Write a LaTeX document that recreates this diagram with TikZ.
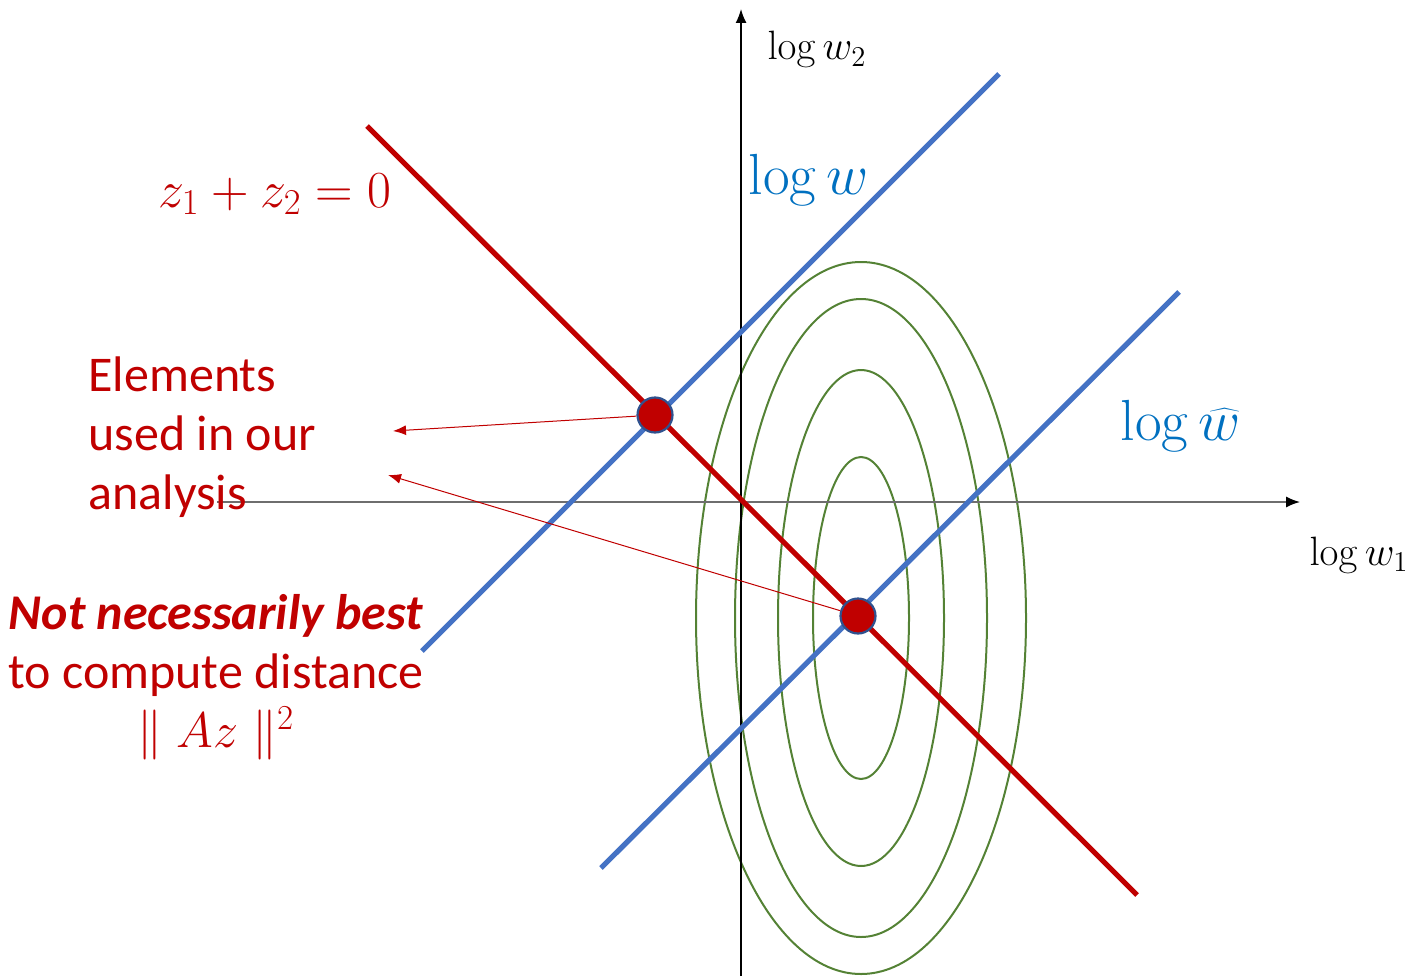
\RequirePackage{fix-cm}
\documentclass[tikz,border=0pt]{standalone}
\usepackage[no-math]{fontspec}
\setmainfont{Carlito}
\usepackage{tikz}
\usetikzlibrary{arrows.meta, positioning}
\definecolor{darkred}{HTML}{C00000}
\definecolor{lineblue}{HTML}{4472C4}
\definecolor{textblue}{HTML}{0070C0}
\definecolor{dotblue}{HTML}{2F528F}
\definecolor{contourgreen}{HTML}{548235}
\definecolor{axisgray}{HTML}{6E6E6E}

\begin{document}
\begin{tikzpicture}[
  x=0.5pt, y=-0.5pt,
  axis/.style={line width=0.75pt, -{Latex[length=7pt, width=5.5pt, color=black]}},
  ridge/.style={line width=2.6pt, draw=lineblue},
  constraint/.style={line width=2.6pt, draw=darkred},
  contour/.style={line width=1pt, draw=contourgreen},
  elem/.style={circle, fill=darkred, draw=dotblue, line width=1.1pt, inner sep=0pt, minimum size=17.5pt},
  pointer/.style={draw=darkred, line width=0.5pt, -{Latex[length=6.5pt, width=5pt]}},
  note/.style={text=darkred, font=\fontsize{25}{29.5}\selectfont, inner sep=0pt},
  axlabel/.style={font=\fontsize{20.5}{24}\selectfont, inner sep=0pt, anchor=base},
  linelabel/.style={text=textblue, font=\fontsize{29}{34}\selectfont, inner sep=0pt, anchor=base}
]
\useasboundingbox (0,0) rectangle (1423,979);

\coordinate (mid) at (861,618);
\foreach \rx/\ry in {82.5/178, 63/159.5, 41.5/124, 24/80.5}
  \draw[contour] (mid) ellipse [x radius=\rx pt, y radius=\ry pt];

\coordinate (xstart) at (217,502);
\coordinate (xend) at (1300,502);
\coordinate (ystart) at (741,976);
\coordinate (yend) at (741,9);
\draw[axis, draw=axisgray] (xstart) -- (xend);
\draw[axis, draw=black] (ystart) -- (yend);

\coordinate (wlow) at (422,651);
\coordinate (whigh) at (999,74);
\coordinate (hatlow) at (601,868);
\coordinate (hathigh) at (1179,292);
\coordinate (zhigh) at (367,126);
\coordinate (zlow) at (1137,895);
\draw[ridge] (wlow) -- (whigh);
\draw[ridge] (hatlow) -- (hathigh);
\draw[constraint] (zhigh) -- (zlow);

\node[elem] (near) at (655,415) {};
\node[elem] (opt) at (858,616) {};

\coordinate (tipa) at (393,431);
\coordinate (tipb) at (388,475);
\draw[pointer] (near) -- (tipa);
\draw[pointer] (opt) -- (tipb);

\node[axlabel] (ylab) at (817,60) {$\log w_2$};
\node[axlabel] (xlab) at (1359,565) {$\log w_1$};
\node[linelabel] (wlab) at (809,194) {$\log w$};
\node[linelabel] (hatlab) at (1181,440) {$\log \widehat{w}$};
\node[note, anchor=base, font=\fontsize{26}{30}\selectfont] (zlab) at (275,207) {$z_1+z_2=0$};
\node[note, anchor=north west, align=left] (used) at (88,356) {Elements\\used in our\\analysis};
\node[note, anchor=north, align=center] (caveat) at (216,594) {\textbf{\textit{Not necessarily best}}\\to compute distance\\$\parallel Az\parallel^2$};
\end{tikzpicture}
\end{document}
